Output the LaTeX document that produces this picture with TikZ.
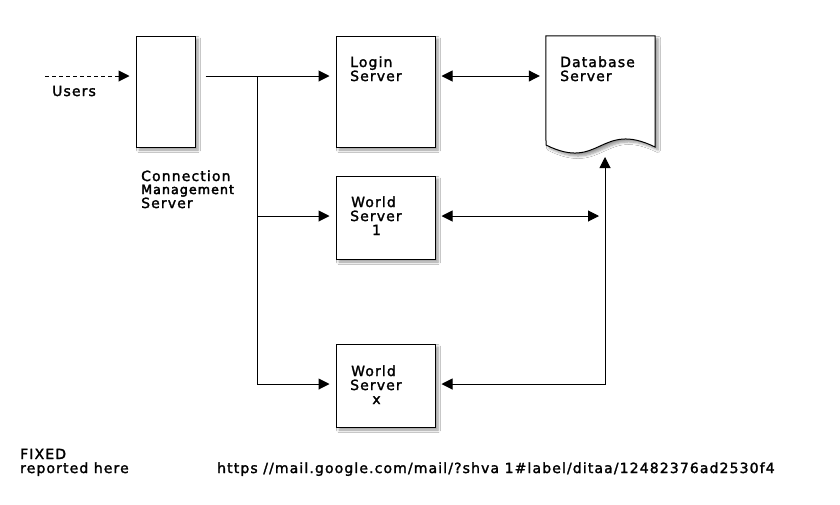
\documentclass[tikz,border=0pt]{standalone}
\usepackage{fontspec}
\setmainfont{DejaVu Sans}[LetterSpace=8,FakeBold=1.8]
\newfontfamily\mgmtfont{DejaVu Sans}[LetterSpace=8,FakeBold=3]
\usetikzlibrary{arrows.meta,shadows.blur}
\begin{document}
\begin{tikzpicture}[x=1pt,y=-1pt,
  shad/.style={blur shadow={shadow xshift=3pt,shadow yshift=-3pt,shadow blur steps=6,shadow blur radius=2.5pt,shadow opacity=40}},
  box/.style={draw=black,line width=1pt,fill=white,inner sep=0pt,shad},
  lbl/.style={inner sep=0pt,font=\fontsize{14}{14}\selectfont},
  small/.style={inner sep=0pt,font=\mgmtfont\fontsize{12.7}{14}\selectfont},
  ln/.style={line width=1pt,draw=black},
  arr/.style={ln,-{Triangle[length=11pt,width=11pt]}},
  darr/.style={ln,{Triangle[length=11pt,width=11pt]}-{Triangle[length=11pt,width=11pt]}}
]
\useasboundingbox (0,0) rectangle (840,504);
\fill[white] (0,0) rectangle (840,504);

% boxes
\node[box,minimum width=59pt,minimum height=111pt] (cms) at (165.5,91.5) {};
\node[box,minimum width=99pt,minimum height=111pt] (login) at (385.5,91.5) {};
\node[box,minimum width=99pt,minimum height=83pt] (w1) at (385.5,217.5) {};
\node[box,minimum width=99pt,minimum height=83pt] (wx) at (385.5,385.5) {};
\node[inner sep=0pt,minimum width=109pt,minimum height=111pt] (db) at (600.5,91.5) {};
\draw[ln,fill=white,shad] (db.north west) -- (db.north east) -- (655,147)
  .. controls (600,120) and (600,172) .. (546,145) -- cycle;

% labels
\node[lbl,anchor=base west] (tu) at (52,96) {Users};
\node[lbl,anchor=base west] (tc1) at (141,181) {Connection};
\node[small,anchor=base west] (tc2) at (141,194) {Management};
\node[lbl,anchor=base west] (tc3) at (141,208) {Server};
\node[lbl,anchor=base west] (tl1) at (350,67) {Login};
\node[lbl,anchor=base west] (tl2) at (350,81) {Server};
\node[lbl,anchor=base west] (td1) at (560,67) {Database};
\node[lbl,anchor=base west] (td2) at (560,81) {Server};
\node[lbl,anchor=base west] (tw1) at (351,207) {World};
\node[lbl,anchor=base west] (tw2) at (350,221) {Server};
\node[lbl,anchor=base] (tw3) at (376.5,235) {1};
\node[lbl,anchor=base west] (tx1) at (351,376) {World};
\node[lbl,anchor=base west] (tx2) at (350,390) {Server};
\node[lbl,anchor=base] (tx3) at (376.5,404) {x};
\node[lbl,anchor=base west] (f1) at (20,459) {FIXED};
\node[lbl,anchor=base west] (f2) at (20,473) {reported here};
\node[lbl,anchor=base west] (f3) at (217,473) {https //mail.google.com/mail/?shva 1\#label/ditaa/12482376ad2530f4};

% connectors
\coordinate (users) at (45,76);
\coordinate (j1) at (257,76);
\coordinate (j2) at (257,216);
\coordinate (j3) at (257,384);
\coordinate (k1) at (599,216);
\coordinate (k2) at (605,384);
\coordinate (dbt) at (605,157);
\draw[arr,dashed,dash pattern=on 4pt off 3pt] (users) -- ([xshift=-6pt]cms.west |- users);
\draw[arr] ([xshift=10pt]cms.east |- users) -- ([xshift=-6pt]login.west |- users);
\draw[ln] (j1) -- (j3);
\draw[arr] (j2) -- ([xshift=-6pt]w1.west |- j2);
\draw[arr] (j3) -- ([xshift=-6pt]wx.west |- j3);
\draw[darr] ([xshift=6pt]login.east |- users) -- ([xshift=-6pt]db.west |- users);
\draw[darr] ([xshift=6pt]w1.east |- j2) -- (k1);
\draw[darr] ([xshift=6pt]wx.east |- k2) -- (k2) -- (dbt);
\end{tikzpicture}
\end{document}
